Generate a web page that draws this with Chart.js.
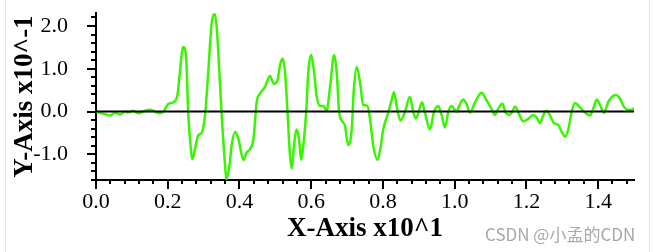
<!DOCTYPE html>
<html>
<head>
<meta charset="utf-8">
<script src="https://cdn.jsdelivr.net/npm/chart.js@4"></script>
<style>
  body { margin: 0; background: #fff; }
  #wrap { position: relative; width: 653px; height: 252px; }
  .edge { position: absolute; top: 0; bottom: 0; width: 1px; background: #e6e6e6; }
  #mark { position: absolute; left: 485px; top: 225px; font: 17px/17px "Noto Sans CJK SC", "Noto Sans", sans-serif; color: #a8a8a8; white-space: nowrap; }
</style>
</head>
<body>
<div id="wrap">
  <canvas id="plot" width="653" height="252"></canvas>
  <div class="edge" style="left:5px"></div>
  <div class="edge" style="left:649px"></div>
  <div id="mark">CSDN @小孟的CDN</div>
</div>
<script>
  // signal, x in units of 10^1, y in units of 10^-1
  const xValues = [0, 0.011, 0.025, 0.039, 0.053, 0.067, 0.081, 0.09, 0.104, 0.118, 0.137, 0.151, 0.164, 0.174, 0.188,
    0.202, 0.216, 0.227, 0.234, 0.243, 0.251, 0.257, 0.262, 0.269, 0.276, 0.285, 0.295, 0.304, 0.313, 0.322,
    0.33, 0.336, 0.344, 0.35, 0.358, 0.364, 0.372, 0.378, 0.388, 0.397, 0.411, 0.42, 0.429, 0.439, 0.448,
    0.457, 0.471, 0.485, 0.496, 0.506, 0.513, 0.52, 0.527, 0.534, 0.541, 0.546, 0.552, 0.559, 0.566, 0.572,
    0.578, 0.586, 0.592, 0.6, 0.608, 0.615, 0.623, 0.634, 0.643, 0.652, 0.664, 0.671, 0.678, 0.685, 0.694,
    0.703, 0.713, 0.719, 0.727, 0.736, 0.745, 0.757, 0.764, 0.773, 0.785, 0.794, 0.801, 0.815, 0.824, 0.831,
    0.838, 0.849, 0.861, 0.875, 0.885, 0.892, 0.902, 0.909, 0.917, 0.931, 0.942, 0.954, 0.964, 0.973, 0.982,
    0.991, 1.006, 1.013, 1.024, 1.033, 1.043, 1.057, 1.075, 1.089, 1.103, 1.112, 1.121, 1.133, 1.142, 1.151,
    1.161, 1.168, 1.179, 1.191, 1.205, 1.219, 1.228, 1.238, 1.247, 1.256, 1.268, 1.277, 1.289, 1.298, 1.308,
    1.317, 1.326, 1.335, 1.349, 1.363, 1.377, 1.386, 1.396, 1.405, 1.416, 1.428, 1.438, 1.45, 1.461, 1.47,
    1.484, 1.493, 1.5];
  const yValues = [0, -0.03, -0.06, -0.09, -0.03, -0.07, 0, -0.02, 0.02, -0.04, 0.02, 0.04, 0, -0.04, 0,
    0.18, 0.22, 0.38, 0.93, 1.51, 1.32, -0.02, -0.64, -1.11, -0.88, -0.56, -0.49, -0.09, 0.93, 2.02,
    2.30, 2.02, 0.93, -0.02, -1.04, -1.58, -1.27, -0.8, -0.47, -0.64, -1.13, -0.96, -0.88, -0.64, 0.22,
    0.42, 0.57, 0.83, 0.65, 0.73, 1.08, 1.24, 0.93, -0.02, -1.04, -1.33, -0.8, -0.42, -0.64, -1.13,
    -0.8, -0.02, 0.93, 1.32, 0.93, 0.38, 0.14, 0.13, 0.02, 0.53, 1.32, 0.93, -0.02, -0.21, -0.33,
    -0.78, -0.41, 0.53, 1.04, 0.69, 0.16, 0.13, -0.17, -0.8, -1.13, -0.8, -0.41, -0.02, 0.26, 0.45,
    0.14, -0.21, -0.02, 0.34, -0.02, -0.16, 0.06, 0.22, -0.02, -0.42, -0.02, 0.13, -0.09, -0.37, -0.02,
    0.13, 0, 0.14, 0.28, 0.18, -0.02, 0.22, 0.44, 0.26, 0.06, -0.08, 0.06, 0.18, -0.02, -0.08,
    0, 0.12, -0.05, -0.23, -0.17, -0.08, -0.13, -0.27, -0.09, 0.02, -0.13, -0.27, -0.31, -0.47, -0.58,
    -0.41, -0.02, 0.2, 0.1, -0.02, -0.09, 0.06, 0.28, 0.16, -0.03, 0.22, 0.34, 0.39, 0.3, 0.14,
    0.04, 0.04, 0.08];
  const zeroLineX = [0, 1.5];
  const zeroLineY = [0, 0];

  const serif = '"Liberation Serif", "Times New Roman", serif';
  const isStep = (v, s) => Math.abs(v / s - Math.round(v / s)) < 1e-6;

  // small outward ticks, long on labelled values
  const tickMarks = {
    id: 'tickMarks',
    afterDraw(chart) {
      const { ctx, scales: { x, y } } = chart;
      ctx.save();
      ctx.strokeStyle = '#000';
      ctx.lineWidth = 2;
      ctx.beginPath();
      for (let k = 0; k <= 37; k++) {
        const v = k * 0.04;
        const px = Math.round(x.getPixelForValue(v));
        const len = k % 5 === 0 ? 9 : 4;
        ctx.moveTo(px, x.top);
        ctx.lineTo(px, x.top + len);
      }
      for (let k = 0; k <= 19; k++) {
        const v = -1.6 + k * 0.2;
        const py = Math.round(y.getPixelForValue(v));
        const len = isStep(v, 1) ? 9 : 5;
        ctx.moveTo(y.right, py);
        ctx.lineTo(y.right - len, py);
      }
      ctx.stroke();
      ctx.restore();
    }
  };

  const hiddenGrid = len => ({
    display: true,
    drawOnChartArea: false,
    drawTicks: true,
    tickLength: len,
    color: 'rgba(0,0,0,0)'
  });

  new Chart(document.getElementById('plot'), {
    type: 'line',
    data: {
      datasets: [
        {
          data: xValues.map((v, i) => ({ x: v, y: yValues[i] })),
          borderColor: 'rgb(57,245,0)',
          borderWidth: 2.5,
          pointRadius: 0,
          cubicInterpolationMode: 'monotone',
          order: 2
        },
        {
          data: zeroLineX.map((v, i) => ({ x: v, y: zeroLineY[i] })),
          borderColor: '#000',
          borderWidth: 2,
          pointRadius: 0,
          order: 1
        }
      ]
    },
    options: {
      responsive: false,
      animation: false,
      devicePixelRatio: 1,
      layout: { padding: { top: 12, right: 19, left: 0, bottom: 0 } },
      plugins: { legend: { display: false }, tooltip: { enabled: false } },
      scales: {
        x: {
          type: 'linear',
          min: 0,
          max: 1.5,
          grid: hiddenGrid(9),
          border: { display: true, color: '#000', width: 2 },
          ticks: {
            stepSize: 0.2,
            includeBounds: false,
            autoSkip: false,
            maxRotation: 0,
            padding: 0,
            color: '#000',
            font: { family: serif, size: 22 },
            callback: v => v.toFixed(1)
          },
          title: {
            display: true,
            text: 'X-Axis x10^1',
            color: '#000',
            font: { family: serif, size: 27, weight: 'bold' },
            padding: { top: 0, bottom: 7 }
          },
          afterFit: s => { s.height = 72; }
        },
        y: {
          type: 'linear',
          min: -1.6,
          max: 2.3,
          grid: hiddenGrid(28),
          border: { display: true, color: '#000', width: 2 },
          ticks: {
            stepSize: 1,
            includeBounds: false,
            padding: 0,
            color: '#000',
            font: { family: serif, size: 22 },
            callback: v => v.toFixed(1)
          },
          title: {
            display: true,
            text: 'Y-Axis x10^-1',
            color: '#000',
            font: { family: serif, size: 27, weight: 'bold' },
            padding: { top: 9, bottom: 0 }
          },
          afterFit: s => { s.width = 96; }
        }
      }
    },
    plugins: [tickMarks]
  });
</script>
</body>
</html>
